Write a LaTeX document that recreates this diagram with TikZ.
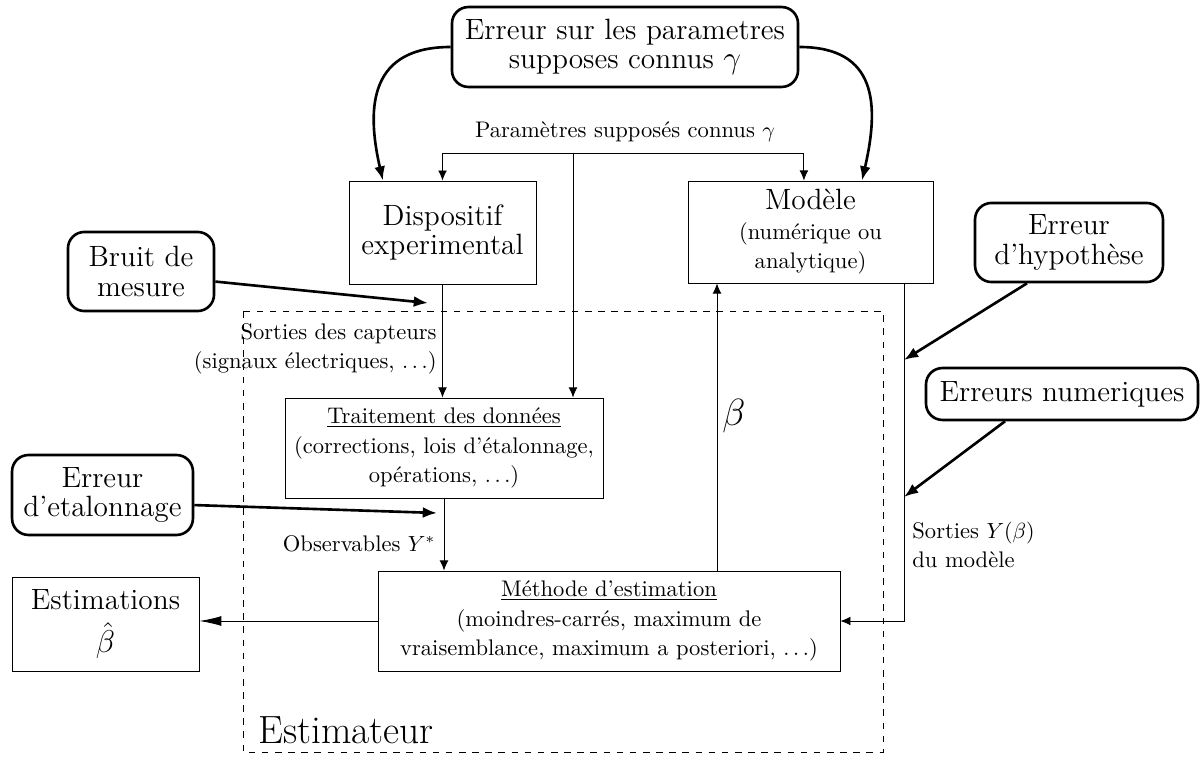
\documentclass[tikz,border=0pt]{standalone}
\usetikzlibrary{arrows.meta}
\newcommand\bigf{\fontsize{13.4}{13.5}\selectfont}
\begin{document}
\begin{tikzpicture}[x=0.4566pt, y=-0.4566pt,
    every node/.style={font=\fontsize{10.3}{13.5}\selectfont, align=center},
    erreur/.style={draw, very thick, rounded corners=7.5pt, font=\bigf, inner sep=0pt},
    bloc/.style={draw, inner sep=0pt},
    lien/.style={-{Latex[length=4.6pt,width=4pt]}},
    lienfort/.style={very thick, -{Latex[length=6.5pt,width=5pt]}}]
    \useasboundingbox (0,0) rectangle (1202,760);

    % sources d'erreur
    \node [erreur, minimum width=158pt, minimum height=36.5pt] (errparam) at (625,47) {Erreur sur les parametres\\supposes connus $\gamma$};
    \node [erreur, minimum width=66.7pt, minimum height=36.1pt] (bruit) at (141,271.5) {Bruit de\\mesure};
    \node [erreur, minimum width=82.6pt, minimum height=36.5pt] (etal) at (102.5,495) {Erreur\\d'etalonnage};
    \node [erreur, minimum width=85.8pt, minimum height=36.1pt] (hypo) at (1069,242.5) {Erreur\\d'hypothèse};
    \node [erreur, minimum width=124.2pt, minimum height=23.7pt] (numer) at (1062,394) {Erreurs numeriques};

    % blocs
    \node [bloc, minimum width=85.4pt, minimum height=47pt, font=\bigf] (dispo) at (442.5,232.5) {Dispositif\\experimental};
    \node [bloc, minimum width=111.9pt, minimum height=46.6pt] (modele) at (810.5,232) {{\bigf Modèle}\\(numérique ou\\analytique)};
    \node [bloc, minimum width=145.2pt, minimum height=45.7pt] (trait) at (444,448) {\underline{Traitement des données}\\(corrections, lois d'étalonnage,\\opérations, $\ldots$)};
    \node [bloc, minimum width=210.9pt, minimum height=45.7pt] (methode) at (609,621) {\underline{Méthode d'estimation}\\(moindres-carrés, maximum de\\vraisemblance, maximum a posteriori, $\ldots$)};
    \node [bloc, minimum width=85.4pt, minimum height=42.9pt, font=\bigf] (estim) at (105.5,624) {Estimations\\[5pt]$\hat{\beta}$};

    % estimateur
    \draw [dashed] (243,311) rectangle (883,752);
    \node [inner sep=0pt, anchor=west, font=\fontsize{18}{20}\selectfont] (estimateur) at (258,730) {Estimateur};

    % textes
    \node [inner sep=0pt] (paramtxt) at (625,132) {Paramètres supposés connus $\gamma$};
    \node [inner sep=0pt, anchor=east, align=right] (capteurs) at (437,349) {Sorties des capteurs\\(signaux électriques, $\ldots$)};
    \node [inner sep=0pt, anchor=east] (observ) at (436,544) {Observables $Y^*$};
    \node [inner sep=0pt, anchor=west, align=left] (sorties) at (912,545) {Sorties $Y(\beta)$\\du modèle};
    \node [inner sep=0pt, font=\fontsize{16}{18}\selectfont] (betatxt) at (734,416) {$\beta$};

    \coordinate (pj) at (573,153);
    \coordinate (bx) at (717,0);
    \coordinate (mx) at (904,0);
    \coordinate (bruit-in) at (428,303);
    \coordinate (etal-in) at (437,513);
    \coordinate (hypo-in) at (904,360);
    \coordinate (num-in) at (904,497);

    % liens
    \draw [lien] (pj) -| (dispo.north);
    \draw [lien] (pj) -| ([xshift=-3pt]modele.north);
    \draw [lien] (pj) -- (pj |- trait.north);
    \draw [lien] (dispo.south) -- (dispo.south |- trait.north);
    \draw [lien] (trait.south) -- (trait.south |- methode.north);
    \draw [-{Latex[length=10pt,width=4.5pt]}] (methode.west) -- (methode.west -| estim.east);
    \draw [lien] (methode.north -| bx) -- (modele.south -| bx);
    \draw [lien] (modele.south -| mx) |- (methode.east);

    \draw [lienfort] (errparam.west) to[out=180, in=103, looseness=1.35] ([xshift=-27.2pt]dispo.north);
    \draw [lienfort] (errparam.east) to[out=0, in=77, looseness=1.35] ([xshift=23.5pt]modele.north);
    \draw [lienfort] ([yshift=-4.6pt]bruit.east) -- (bruit-in);
    \draw [lienfort] ([yshift=-4.6pt]etal.east) -- (etal-in);
    \draw [lienfort] ([xshift=-19.2pt]hypo.south) -- (hypo-in);
    \draw [lienfort] ([xshift=-26pt]numer.south) -- (num-in);
\end{tikzpicture}
\end{document}
